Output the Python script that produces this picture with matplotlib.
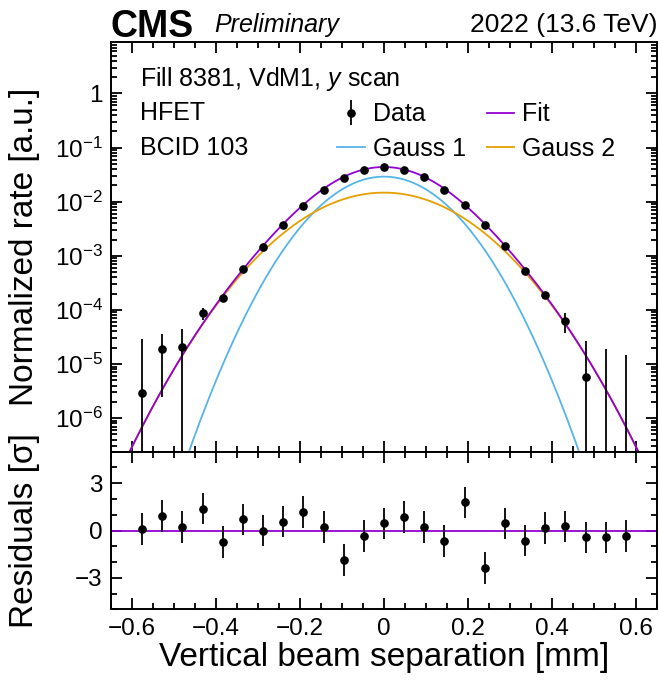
import numpy as np
import matplotlib
matplotlib.use('Agg')
import matplotlib.pyplot as plt
from matplotlib.ticker import MultipleLocator, FixedLocator, LogLocator, FuncFormatter, NullFormatter

plt.rcParams['font.family'] = ['Liberation Sans', 'DejaVu Sans']
plt.rcParams['mathtext.fontset'] = 'custom'
plt.rcParams['mathtext.rm'] = 'Liberation Sans'
plt.rcParams['mathtext.it'] = 'Liberation Sans:italic'
plt.rcParams['mathtext.bf'] = 'Liberation Sans:bold'

#----------------------------------------
# scan points (vertical beam separation, mm)
sep = [-0.576, -0.528, -0.480, -0.432, -0.384, -0.336, -0.288, -0.240, -0.192,
       -0.144, -0.096, -0.048, 0.0, 0.048, 0.096, 0.144, 0.192, 0.240, 0.288,
       0.336, 0.384, 0.432, 0.480, 0.528, 0.576]

# normalized rate and its uncertainty
rate = [2.9e-6, 1.92e-5, 2.06e-5, 8.7e-5, 1.66e-4, 5.61e-4, 1.47e-3, 3.71e-3,
        8.44e-3, 0.0167, 0.0278, 0.0379, 0.0432, 0.0385, 0.0286, 0.0167,
        8.8e-3, 3.66e-3, 1.52e-3, 5.31e-4, 1.88e-4, 6.2e-5, 5.7e-6, -6e-6, -8e-6]
rate_err = [2.6e-5, 1.67e-5, 2.4e-5, 2.2e-5, 2.3e-5, 3e-5, 4e-5, 6e-5,
            8e-5, 1e-4, 1.2e-4, 1.3e-4, 1.4e-4, 1.3e-4, 1.2e-4, 1e-4,
            8e-5, 6e-5, 4e-5, 3e-5, 2.3e-5, 2.5e-5, 2.1e-5, 2.5e-5, 2.3e-5]

# residuals in units of sigma
resid = [0.1, 0.92, 0.23, 1.39, -0.73, 0.70, 0.0, 0.56, 1.17, 0.23, -1.88,
         -0.36, 0.45, 0.85, 0.23, -0.68, 1.79, -2.37, 0.45, -0.64, 0.15,
         0.26, -0.43, -0.43, -0.36]
resid_err = [1.0] * 25

# double gaussian fit parameters
amp1, sigma1 = 0.029, 0.096
amp2, sigma2 = 0.0147, 0.129

fit_col = '#9400d3'
g1_col = '#56b4e9'
g2_col = '#e69f00'

#----------------------------------------
sep = np.array(sep)
rate = np.array(rate)
rate_err = np.array(rate_err)

xs = np.linspace(-0.65, 0.65, 600)
g1 = amp1 * np.exp(-xs**2 / (2 * sigma1**2))
g2 = amp2 * np.exp(-xs**2 / (2 * sigma2**2))

fig = plt.figure(figsize=(6.59, 6.80), dpi=100)
ax = fig.add_axes([0.1684, 0.3357, 0.8286, 0.6021])
axr = fig.add_axes([0.1684, 0.104, 0.8286, 0.2317], sharex=ax)

ax.plot(xs, g1, color=g1_col, lw=1.3, label='Gauss 1')
ax.plot(xs, g2, color=g2_col, lw=1.3, label='Gauss 2')
ax.plot(xs, g1 + g2, color=fit_col, lw=1.3, label='Fit')

pos = rate > 0
lo = np.clip(rate - rate_err, 1e-12, None)
ax.errorbar(sep[pos], rate[pos], yerr=[rate[pos] - lo[pos], rate_err[pos]],
            fmt='o', color='k', ms=5.2, elinewidth=1.3, capsize=0, label='Data', zorder=5)
ax.vlines(sep[~pos], lo[~pos], (rate + rate_err)[~pos], color='k', lw=1.3, zorder=5)

ax.set_yscale('log')
ax.set_ylim(2.4e-7, 8.8)
ax.set_xlim(-0.65, 0.65)

ax.yaxis.set_major_locator(FixedLocator([1e-6, 1e-5, 1e-4, 1e-3, 1e-2, 1e-1, 1, 10]))
ax.yaxis.set_minor_locator(LogLocator(base=10, subs=np.arange(2, 10), numticks=20))
ax.yaxis.set_minor_formatter(NullFormatter())


def logfmt(v, p):
    if v >= 10:
        return ''
    if abs(v - 1) < 1e-9:
        return '1'
    return r'$10^{%d}$' % int(round(np.log10(v)))


ax.yaxis.set_major_formatter(FuncFormatter(logfmt))
ax.set_ylabel('Normalized rate [a.u.]', fontsize=24)

# residuals
axr.axhline(0, color=fit_col, lw=1.3)
axr.errorbar(sep, resid, yerr=resid_err, fmt='o', color='k', ms=5.2,
             elinewidth=1.3, capsize=0, zorder=5)
axr.set_ylim(-5, 5)
axr.yaxis.set_major_locator(FixedLocator([-3, 0, 3]))
axr.yaxis.set_minor_locator(MultipleLocator(1))
axr.set_ylabel('Residuals [σ]', fontsize=24)
axr.set_xlabel('Vertical beam separation [mm]', fontsize=24, labelpad=2)

axr.xaxis.set_major_locator(MultipleLocator(0.2))
axr.xaxis.set_minor_locator(MultipleLocator(0.05))
axr.xaxis.set_major_formatter(FuncFormatter(lambda v, p: ('%g' % round(v, 2)).replace('-', '\u2212')))

for a in (ax, axr):
    a.tick_params(which='both', direction='in', top=True, right=True, width=1.3)
    a.tick_params(which='major', length=8, labelsize=17.5, pad=6)
    a.tick_params(which='minor', length=4.5)
    for s in a.spines.values():
        s.set_linewidth(1.4)
    a.yaxis.set_label_coords(-0.13, 0.5)
ax.tick_params(labelbottom=False)

# text
ax.text(0.053, 0.893, 'Fill 8381, VdM1, $y$ scan', transform=ax.transAxes, fontsize=18, va='baseline')
ax.text(0.053, 0.810, 'HFET', transform=ax.transAxes, fontsize=18, va='baseline')
ax.text(0.053, 0.725, 'BCID 103', transform=ax.transAxes, fontsize=18, va='baseline')

h, l = ax.get_legend_handles_labels()
order = [l.index('Data'), l.index('Gauss 1'), l.index('Fit'), l.index('Gauss 2')]
ax.legend([h[i] for i in order], [l[i] for i in order], ncol=2, frameon=False,
          fontsize=18, loc='upper left', bbox_to_anchor=(0.414, 0.853), borderpad=0,
          handlelength=1.1, handletextpad=0.32, columnspacing=0.85, labelspacing=0.42,
          borderaxespad=0)

ax.text(0.0, 1.0137, 'CMS', transform=ax.transAxes, fontsize=27, fontweight='bold', va='baseline')
ax.text(0.19, 1.025, 'Preliminary', transform=ax.transAxes, fontsize=18, style='italic', va='baseline')
ax.text(1.0, 1.025, '2022 (13.6 TeV)', transform=ax.transAxes, fontsize=19, ha='right', va='baseline')

fig.savefig('out.png', dpi=100)
